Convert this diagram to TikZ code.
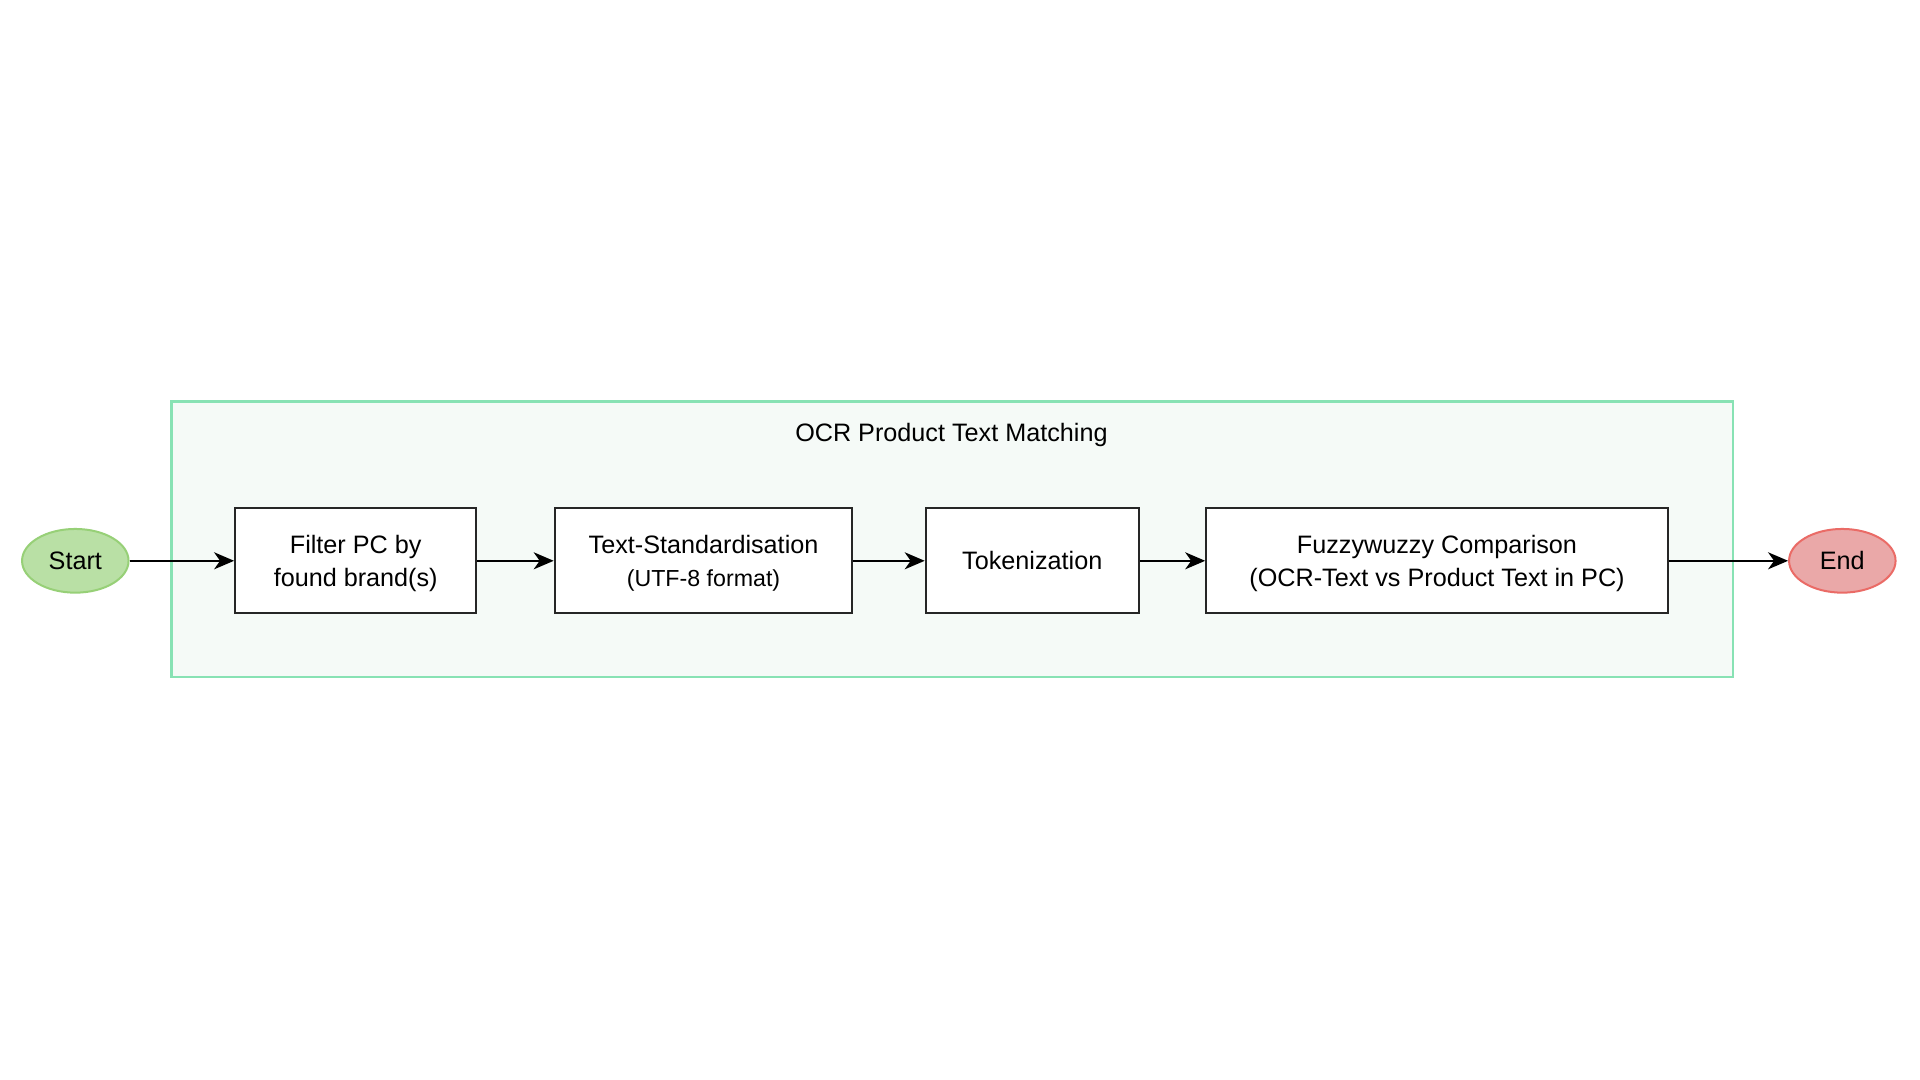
\documentclass[tikz,border=0pt]{standalone}
\usepackage{fontspec}
\setmainfont{Liberation Sans}
\usetikzlibrary{shapes.geometric,arrows.meta}
\definecolor{contfill}{HTML}{F5FAF7}
\definecolor{contdraw}{HTML}{88E2B4}
\definecolor{startfill}{HTML}{B9E0A5}
\definecolor{startdraw}{HTML}{97D077}
\definecolor{endfill}{HTML}{EAA8A8}
\definecolor{enddraw}{HTML}{EA6B66}
\newcommand{\twolines}[2]{\raisebox{-1.3pt}[\height][\depth]{\renewcommand{\arraystretch}{1.03}\begin{tabular}{@{}c@{}}#1\\#2\end{tabular}}}
\tikzset{
  txt/.style={font=\fontsize{12.6}{15.8}\selectfont},
  procbox/.style={draw=black!85, line width=1pt, fill=white, rectangle, minimum height=52.65pt, inner sep=0pt, txt},
  term/.style={ellipse, line width=1pt, minimum width=53.25pt, minimum height=31.85pt, inner sep=0pt, txt},
  flow/.style={-{Stealth[length=10pt,width=8.5pt,inset=3pt]}, line width=1pt, black}
}
\begin{document}
\begin{tikzpicture}[x=0.5pt,y=-0.5pt]
\useasboundingbox (0,0) rectangle (1920,1080);
\fill[white] (0,0) rectangle (1920,1080);
\draw[draw=contdraw, fill=contfill, line width=1.2pt] (171.4,401.6) rectangle (1732.7,677.2);
\node[txt] (title) at (951.4,434.8) {OCR Product Text Matching};
\node[term, fill=startfill, draw=startdraw] (start) at (75.3,560.8) {Start};
\node[term, fill=endfill, draw=enddraw] (end) at (1842.3,560.8) {End};
\node[procbox, minimum width=120.6pt] (filter) at (355.7,560.8) {\twolines{Filter PC by}{found brand(s)}};
\node[procbox, minimum width=148.8pt] (std) at (703.5,560.8) {\twolines{Text-Standardisation}{\fontsize{11.6}{15.8}\selectfont (UTF-8 format)}};
\node[procbox, minimum width=106.55pt] (tok) at (1032.25,560.8) {Tokenization};
\node[procbox, minimum width=230.8pt] (fuzzy) at (1437,560.8) {\twolines{Fuzzywuzzy Comparison}{(OCR-Text vs Product Text in PC)}};
\draw[flow] (start) -- (filter);
\draw[flow] (filter) -- (std);
\draw[flow] (std) -- (tok);
\draw[flow] (tok) -- (fuzzy);
\draw[flow] (fuzzy) -- (end);
\end{tikzpicture}
\end{document}
